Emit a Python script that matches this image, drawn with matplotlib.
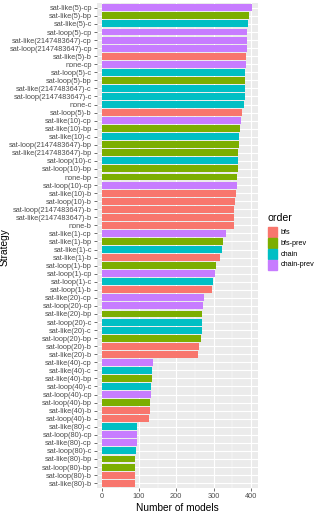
import matplotlib.pyplot as plt
import numpy as np
from matplotlib.patches import Rectangle

# strategies, top to bottom, with number of models solved
strategies = [
    "sat-like(5)-cp", "sat-like(5)-bp", "sat-like(5)-c", "sat-loop(5)-cp",
    "sat-like(2147483647)-cp", "sat-loop(2147483647)-cp", "sat-like(5)-b", "none-cp",
    "sat-loop(5)-c", "sat-loop(5)-bp", "sat-like(2147483647)-c", "sat-loop(2147483647)-c",
    "none-c", "sat-loop(5)-b", "sat-like(10)-cp", "sat-like(10)-bp",
    "sat-like(10)-c", "sat-loop(2147483647)-bp", "sat-like(2147483647)-bp", "sat-loop(10)-c",
    "sat-loop(10)-bp", "none-bp", "sat-loop(10)-cp", "sat-like(10)-b",
    "sat-loop(10)-b", "sat-loop(2147483647)-b", "sat-like(2147483647)-b", "none-b",
    "sat-like(1)-cp", "sat-like(1)-bp", "sat-like(1)-c", "sat-like(1)-b",
    "sat-loop(1)-bp", "sat-loop(1)-cp", "sat-loop(1)-c", "sat-loop(1)-b",
    "sat-like(20)-cp", "sat-loop(20)-cp", "sat-like(20)-bp", "sat-loop(20)-c",
    "sat-like(20)-c", "sat-loop(20)-bp", "sat-loop(20)-b", "sat-like(20)-b",
    "sat-like(40)-cp", "sat-like(40)-c", "sat-like(40)-bp", "sat-loop(40)-c",
    "sat-loop(40)-cp", "sat-loop(40)-bp", "sat-like(40)-b", "sat-loop(40)-b",
    "sat-like(80)-c", "sat-loop(80)-cp", "sat-like(80)-cp", "sat-loop(80)-c",
    "sat-like(80)-bp", "sat-loop(80)-bp", "sat-loop(80)-b", "sat-like(80)-b",
]
models = [
    402, 396, 393, 391, 391, 389, 388, 386, 385, 385, 384, 383, 382, 377, 373, 370,
    368, 367, 366, 365, 365, 364, 362, 359, 358, 356, 356, 355, 333, 325, 323, 316,
    307, 303, 298, 297, 275, 273, 270, 269, 269, 266, 261, 259, 137, 134, 134, 133,
    131, 129, 129, 126, 95, 94, 94, 92, 90, 89, 88, 88,
]

orders = ["bfs", "bfs-prev", "chain", "chain-prev"]
suffix = {"b": "bfs", "bp": "bfs-prev", "c": "chain", "cp": "chain-prev"}
colors = {"bfs": "#F8766D", "bfs-prev": "#7CAE00", "chain": "#00BFC4", "chain-prev": "#C77CFF"}

plt.rcParams['font.family'] = ['Liberation Sans', 'DejaVu Sans']

fig = plt.figure(figsize=(3.17, 5.13), dpi=100)
ax = fig.add_axes([96.7 / 317, 1 - 488 / 513, (258.3 - 96.7) / 317, (488 - 3) / 513])
ax.set_facecolor("#EBEBEB")

n = len(strategies)
ypos = np.arange(n)[::-1] + 1
bar_colors = [colors[suffix[s.rsplit("-", 1)[1]]] for s in strategies]

ax.set_axisbelow(True)
for v in [50, 150, 250, 350]:
    ax.axvline(v, color="white", lw=0.35, zorder=0)
for v in [0, 100, 200, 300, 400]:
    ax.axvline(v, color="white", lw=0.8, zorder=0)
for y in ypos:
    ax.axhline(y, color="white", lw=0.8, zorder=0)

ax.barh(ypos, models, height=0.86, color=bar_colors, linewidth=0, zorder=2)

ax.set_xlim(-13.4, 420)
ax.set_ylim(0.4, n + 0.6)
ax.set_xticks([0, 100, 200, 300, 400])
ax.set_yticks(ypos)
ax.set_yticklabels(strategies)
ax.tick_params(axis="both", labelsize=5.3, labelcolor="#4D4D4D", color="#333333",
               length=2, width=0.5, pad=1.5)
for sp in ax.spines.values():
    sp.set_visible(False)

ax.set_xlabel("Number of models", fontsize=7.3, labelpad=2)
fig.text(5 / 317, 1 - 247 / 513, "Strategy", rotation=90, fontsize=7.3,
         ha="center", va="center")

# legend drawn by hand to match ggplot style
fig.text(267 / 317, 1 - 218 / 513, "order", fontsize=7.6, ha="left", va="center")
key_h = 10.8
for i, o in enumerate(orders):
    top = 227 + i * key_h
    fig.patches.append(Rectangle((268 / 317, 1 - (top + key_h - 0.5) / 513),
                                 9 / 317, (key_h - 0.8) / 513,
                                 transform=fig.transFigure, color=colors[o]))
    fig.text(281 / 317, 1 - (top + key_h / 2) / 513, o, fontsize=5.2,
             ha="left", va="center", color="black")

fig.savefig("out.png", dpi=100)
